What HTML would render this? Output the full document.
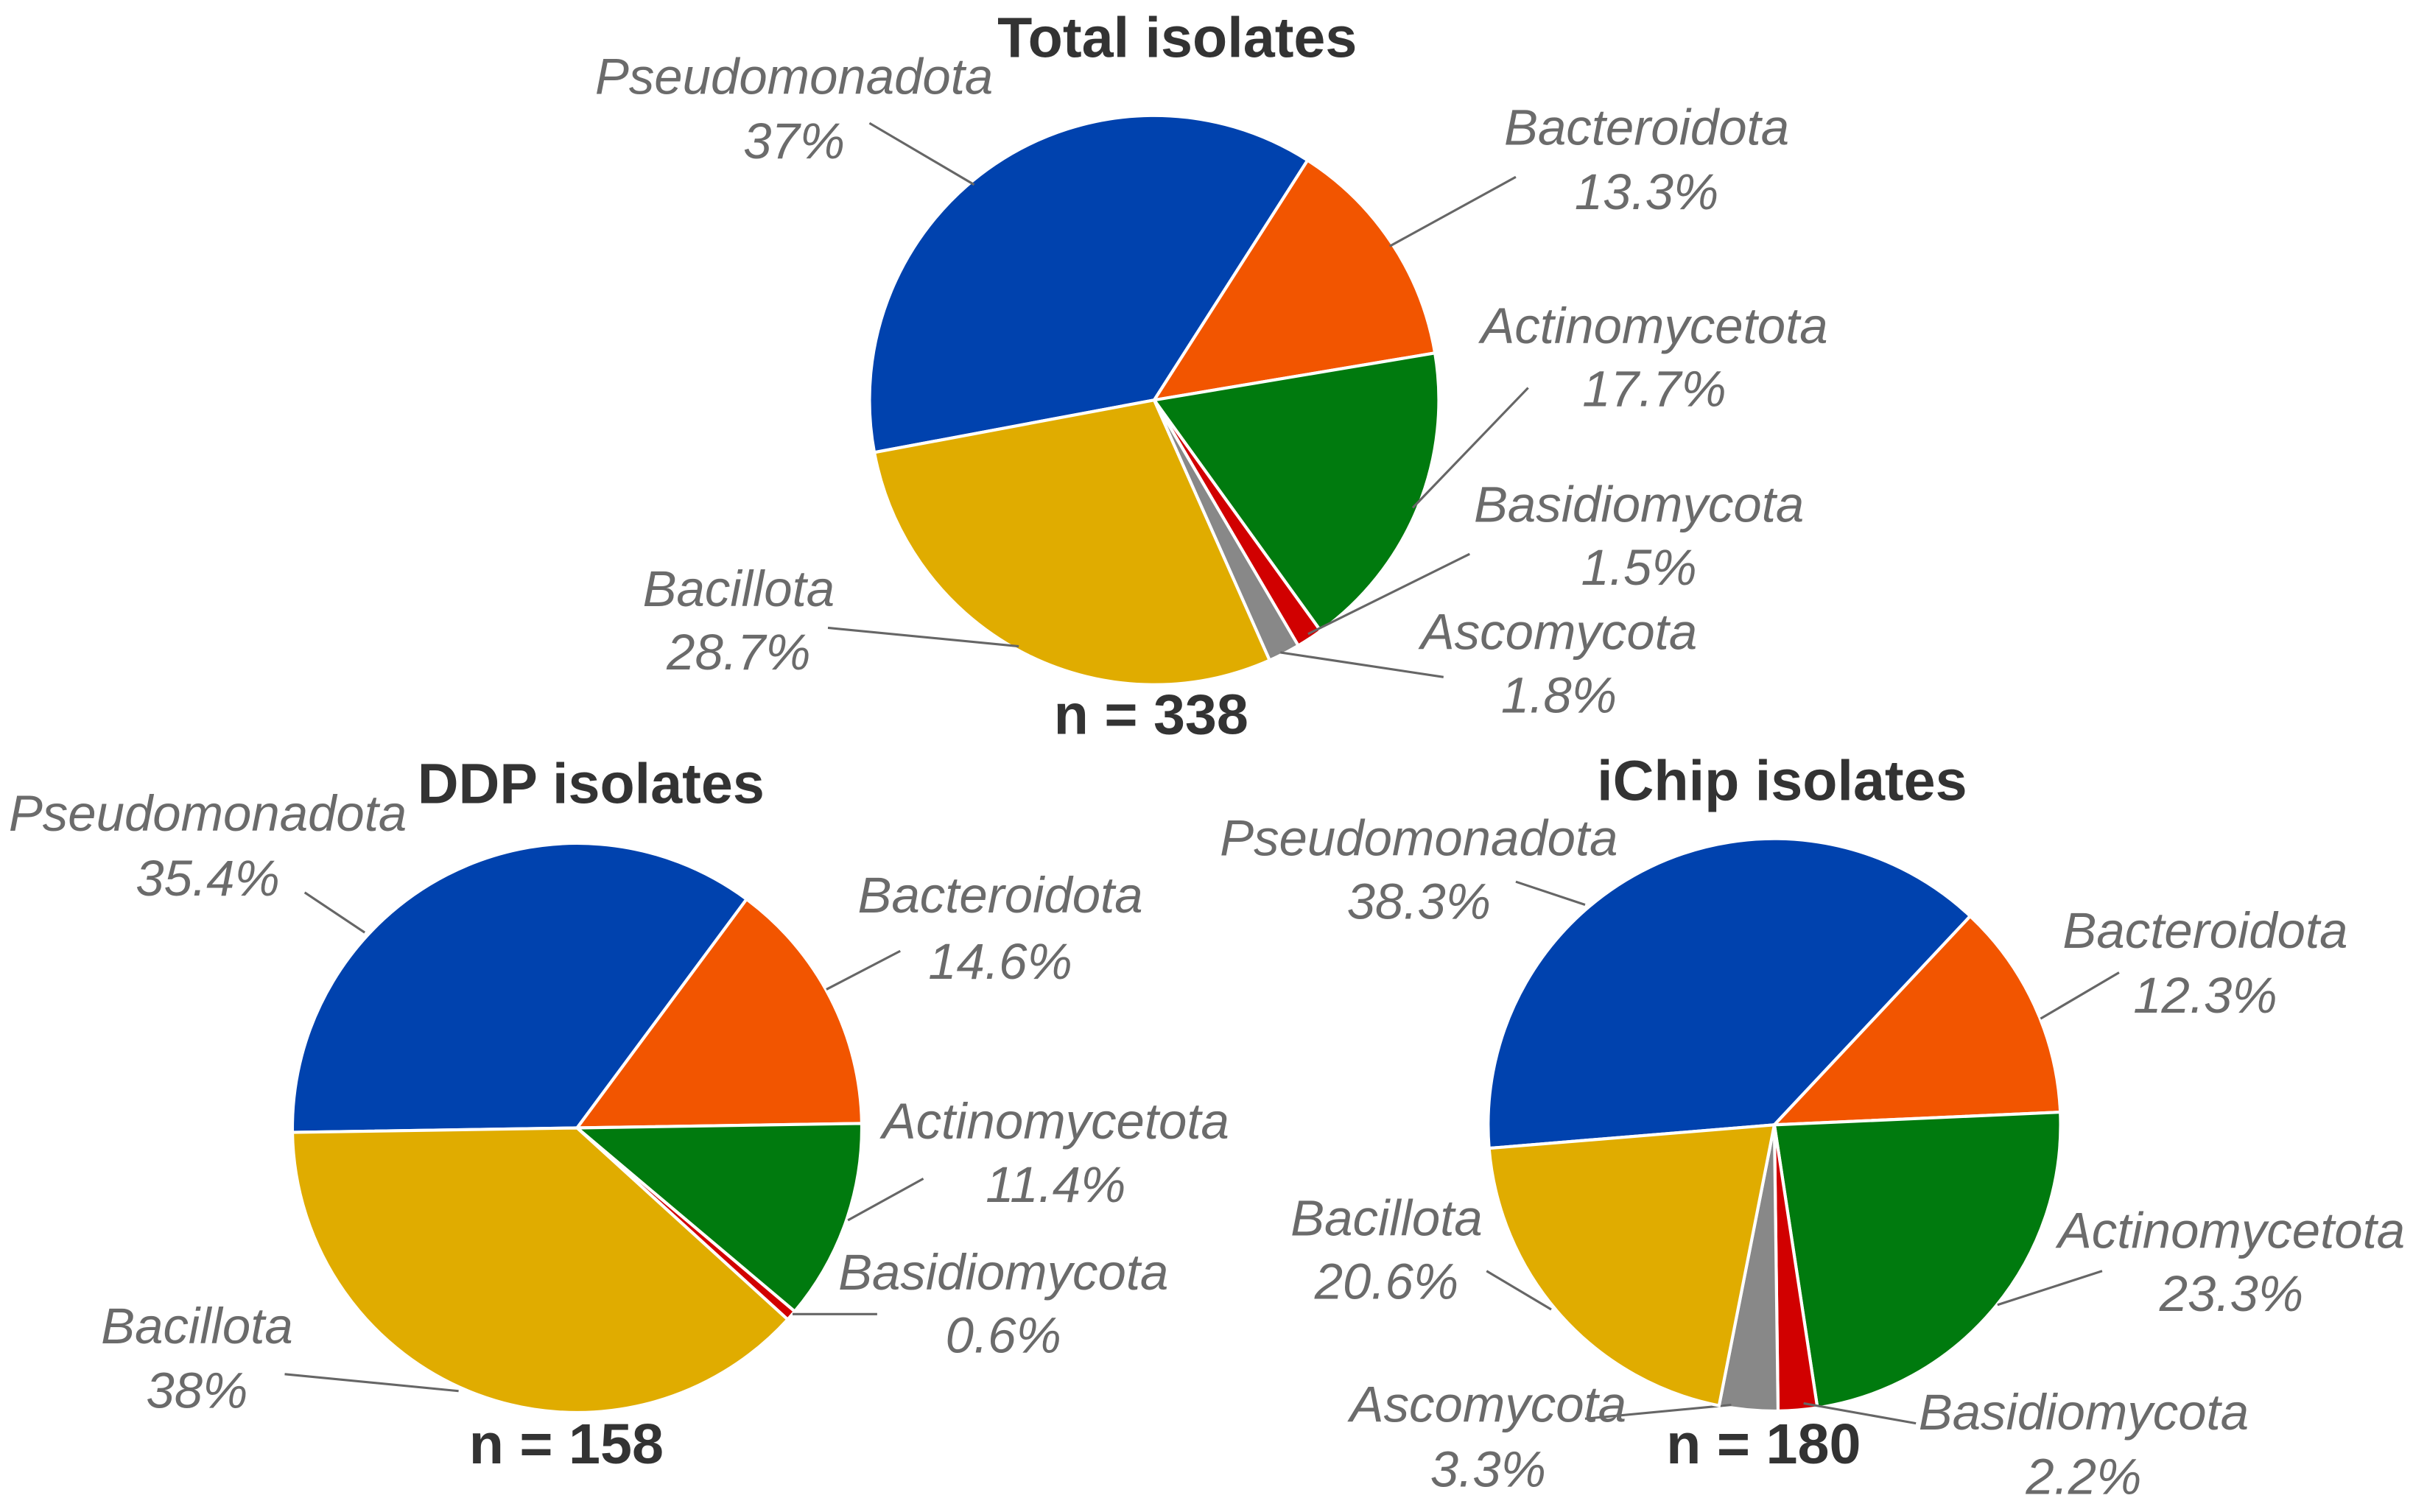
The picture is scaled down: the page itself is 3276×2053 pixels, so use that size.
<!DOCTYPE html>
<html><head><meta charset="utf-8"><style>
html,body{margin:0;padding:0;background:#fff;}
svg{display:block;}
.lbl{font-family:"Liberation Sans",sans-serif;font-style:italic;fill:#6b6b6b;font-size:33px;}
.ttl{font-family:"Liberation Sans",sans-serif;font-weight:bold;fill:#333;font-size:37px;}
</style></head><body>
<svg id="chart" width="3276" height="2053" viewBox="0 0 1568 982.6" xmlns="http://www.w3.org/2000/svg">
<text class="ttl" x="765" y="37" text-anchor="middle">Total isolates</text>
<text class="ttl" x="748" y="477" text-anchor="middle">n = 338</text>
<text class="ttl" x="384" y="522" text-anchor="middle">DDP isolates</text>
<text class="ttl" x="368" y="951" text-anchor="middle">n = 158</text>
<text class="ttl" x="1158" y="520" text-anchor="middle">iChip isolates</text>
<text class="ttl" x="1146" y="951" text-anchor="middle">n = 180</text>
</svg>
<script>
const totalCats = ["Pseudomonadota","Bacteroidota","Actinomycetota","Basidiomycota","Ascomycota","Bacillota"];
const totalVals = [37,13.3,17.7,1.5,1.8,28.7];
const ddpCats = ["Pseudomonadota","Bacteroidota","Actinomycetota","Basidiomycota","Bacillota"];
const ddpVals = [35.4,14.6,11.4,0.6,38];
const ichipCats = ["Pseudomonadota","Bacteroidota","Actinomycetota","Basidiomycota","Ascomycota","Bacillota"];
const ichipVals = [38.3,12.3,23.3,2.2,3.3,20.6];

const colors = {Pseudomonadota:"#0042ae",Bacteroidota:"#f25500",Actinomycetota:"#007a0e",Basidiomycota:"#d10000",Ascomycota:"#888888",Bacillota:"#e0ac00"};
const NS="http://www.w3.org/2000/svg";
const svg=document.getElementById('chart');

const layouts = {
 total:{cx:750,cy:260,r:185,start:-100.6,lab:{
  Pseudomonadota:[516,61,103,565,80,633,120],
  Bacteroidota:[1070,94,136,985,115,903,160],
  Actinomycetota:[1075,223,264,993,252,918,330],
  Basidiomycota:[1065,339,380,955,360,850,412],
  Ascomycota:[1013,422,463,938,440,832,424],
  Bacillota:[480,394,435,538,408,662,420]}},
 ddp:{cx:375,cy:733,r:185,start:-90.9,lab:{
  Pseudomonadota:[135,540,582,198,580,237,606],
  Bacteroidota:[650,593,636,585,618,537,643],
  Actinomycetota:[686,740,781,600,766,551,793],
  Basidiomycota:[652,838,879,570,854,515,854],
  Bacillota:[128,873,915,185,893,298,904]}},
 ichip:{cx:1153,cy:731,r:186,start:-94.7,lab:{
  Pseudomonadota:[922,556,597,985,573,1030,588],
  Bacteroidota:[1433,616,658,1377,632,1326,662],
  Actinomycetota:[1450,811,852,1366,826,1298,848],
  Basidiomycota:[1354,929,971,1245,925,1172,912],
  Ascomycota:[967,924,966,1030,922,1125,913],
  Bacillota:[901,803,844,966,826,1008,851]}}
};

function pt(cx,cy,r,deg){const a=(deg-90)*Math.PI/180;return [cx+r*Math.cos(a),cy+r*Math.sin(a)];}

function drawPie(key,cats,vals){
 const L=layouts[key];
 const total=vals.reduce((a,b)=>a+b,0);
 let ang=L.start;
 cats.forEach((c,i)=>{
  const sweep=vals[i]/total*360;
  const p0=pt(L.cx,L.cy,L.r,ang), p1=pt(L.cx,L.cy,L.r,ang+sweep);
  const path=document.createElementNS(NS,'path');
  path.setAttribute('d',`M${L.cx},${L.cy} L${p0[0]},${p0[1]} A${L.r},${L.r} 0 ${sweep>180?1:0} 1 ${p1[0]},${p1[1]} Z`);
  path.setAttribute('fill',colors[c]);
  path.setAttribute('stroke','#fff');
  path.setAttribute('stroke-width','2');
  
  
  svg.appendChild(path);
  ang+=sweep;
  const lb=L.lab[c];
  if(lb){
   const ln=document.createElementNS(NS,'line');
   ln.setAttribute('x1',lb[3]);ln.setAttribute('y1',lb[4]);ln.setAttribute('x2',lb[5]);ln.setAttribute('y2',lb[6]);
   ln.setAttribute('stroke','#666');ln.setAttribute('stroke-width','1.5');
   
   
   svg.appendChild(ln);
   const t1=document.createElementNS(NS,'text');
   t1.setAttribute('class','lbl');t1.setAttribute('x',lb[0]);t1.setAttribute('y',lb[1]);t1.setAttribute('text-anchor','middle');
   t1.textContent=c;
   
   
   svg.appendChild(t1);
   const t2=document.createElementNS(NS,'text');
   t2.setAttribute('class','lbl');t2.setAttribute('x',lb[0]);t2.setAttribute('y',lb[2]);t2.setAttribute('text-anchor','middle');
   t2.textContent=vals[i]+'%';
   
   
   svg.appendChild(t2);
  }
 });
}
drawPie('total',totalCats,totalVals);
drawPie('ddp',ddpCats,ddpVals);
drawPie('ichip',ichipCats,ichipVals);
</script>
</body></html>
